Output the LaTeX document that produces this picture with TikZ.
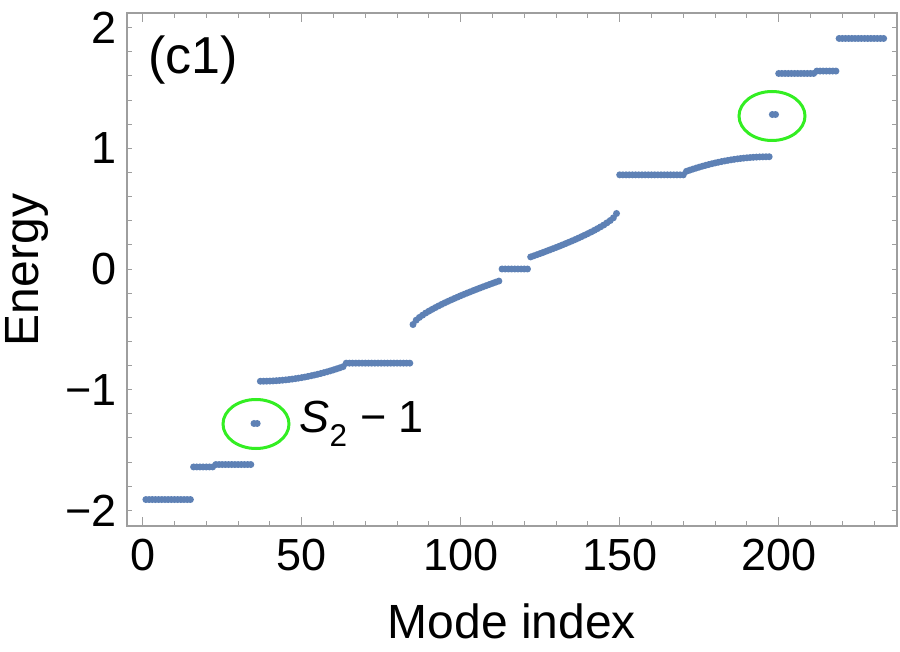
\documentclass[tikz,border=0pt]{standalone}
\usepackage{fontspec}
\setmainfont{Liberation Sans}
\usetikzlibrary{positioning}
\usetikzlibrary{shapes.geometric}
\definecolor{ptblue}{HTML}{5E81B5}
\definecolor{ringgreen}{HTML}{33EE22}
\definecolor{framegray}{HTML}{9E9E9E}
\tikzset{
	ptmark/.style={fill=ptblue,draw=none},
	ring/.style={draw=ringgreen,line width=3pt,ellipse,minimum width=66,minimum height=49,inner sep=0pt},
	ticklab/.style={font=\fontsize{45}{52}\selectfont,inner sep=0pt},
	bigname/.style={font=\fontsize{48}{56}\selectfont,inner sep=0pt},
}
\begin{document}
\begin{tikzpicture}[x=1pt,y=-1pt]
	\useasboundingbox (0,0) rectangle (900,652);
	%Frame
	\draw [framegray,line width=1.3pt] (127,13) rectangle (897,526);
	%Ticks x
	\foreach \k in {0,10,...,230} {
		\pgfmathsetmacro{\tx}{142.7+3.18*\k}
		\pgfmathtruncatemacro{\maj}{mod(\k,50)==0 ? 1 : 0}
		\ifnum\maj=1 \def\tl{9}\else\def\tl{5}\fi
		\draw [framegray,line width=1pt] (\tx,526) -- ++(0,-\tl) (\tx,13) -- ++(0,\tl);
	}
	\foreach \k [count=\n] in {0,50,100,150,200}
		\node [ticklab] (xl\n) at (142.7+3.18*\k,555) {\k};
	%Ticks y
	\foreach \e in {-2,-1.8,...,2.01} {
		\pgfmathsetmacro{\ty}{269-120.7*\e}
		\draw [framegray,line width=1pt] (127,\ty) -- ++(5,0) (897,\ty) -- ++(-5,0);
	}
	\foreach \e/\t [count=\n] in {2/2,1/1,0/0,-1/−1,-2/−2}
		\node [ticklab,anchor=east] (yl\n) at (117,269-120.7*\e) {\t};
	%Labels
	\node [bigname] (xname) at (512,621) {Mode index};
	\node [bigname,rotate=90] (yname) at (27,270) {Energy};
	\node [bigname,font=\fontsize{52}{60}\selectfont] (tag) at (193,60) {(c1)};
	%Data
	\foreach \i in {1,...,233} {
		\pgfmathtruncatemacro{\j}{min(\i,234-\i)}
		\ifnum\j<16 \def\m{1.91}\else
		\ifnum\j<23 \def\m{1.64}\else
		\ifnum\j<35 \def\m{1.62}\else
		\ifnum\j<37 \def\m{1.28}\else
		\ifnum\j<64 \pgfmathsetmacro{\m}{0.93-0.13*((\j-37)/27)^2}\else
		\ifnum\j<85 \def\m{0.78}\else
		\ifnum\j<113 \pgfmathsetmacro{\m}{0.46-0.36*((\j-85)/27)^0.7}\else
		\def\m{0}\fi\fi\fi\fi\fi\fi\fi
		\pgfmathsetmacro{\sg}{\i<117 ? -1 : 1}
		\fill [ptmark] (142.7+3.18*\i,269-120.7*\sg*\m) circle [radius=3.5];
	}
	%Rings
	\node [ring] (lowring) at (256,424) {};
	\node [ring] (highring) at (772,116) {};
	\node [ticklab,anchor=west,right=9pt of lowring] (s2lab) {\textit{S}\textsubscript{2} − 1};
\end{tikzpicture}
\end{document}
